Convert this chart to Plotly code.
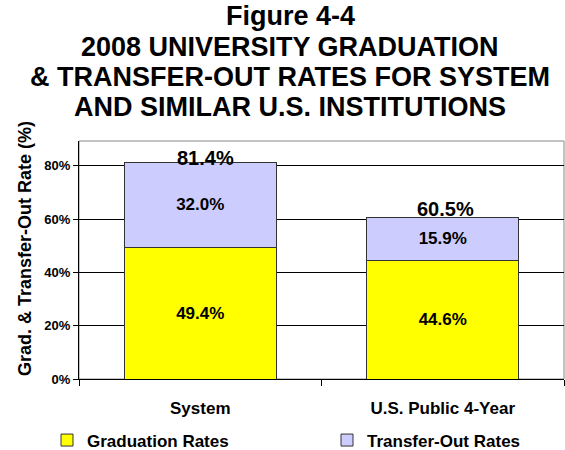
import plotly.graph_objects as go

categories = ["System", "U.S. Public 4-Year"]
graduation_rates = [0.494, 0.446]
transfer_out_rates = [0.320, 0.159]
totals = [0.814, 0.605]
series_names = ["Graduation Rates", "Transfer-Out Rates"]
tick_values = [0, 0.2, 0.4, 0.6, 0.8]
tick_labels = ["0%", "20%", "40%", "60%", "80%"]
title_lines = [
    "Figure 4-4",
    "2008 UNIVERSITY GRADUATION",
    "& TRANSFER-OUT RATES FOR SYSTEM",
    "AND SIMILAR U.S. INSTITUTIONS",
]
y_title = "Grad. & Transfer-Out Rate (%)"

FONT = "Liberation Sans, Arial, Helvetica, sans-serif"
W, H = 565, 450
L, R, T, B = 79, 1, 141, 71
plot_h = H - T - B
plot_w = W - L - R

def py_to_paper(py):
    return (H - B - py) / plot_h

def px_to_paper(px):
    return (px - L) / plot_w

fig = go.Figure()
fig.add_trace(go.Bar(
    x=categories, y=graduation_rates, name=series_names[0],
    marker=dict(color="#FFFF00", line=dict(color="#333333", width=1)),
    width=0.625, legend="legend",
    texttemplate="%{y:.1%}", textposition="inside", insidetextanchor="middle",
    textangle=0, constraintext="none",
    textfont=dict(family=FONT, size=17, color="black", weight="bold"),
))
fig.add_trace(go.Bar(
    x=categories, y=transfer_out_rates, name=series_names[1],
    marker=dict(color="#CCCCFF", line=dict(color="#333333", width=1)),
    width=0.625, legend="legend2",
    texttemplate="%{y:.1%}", textposition="inside", insidetextanchor="middle",
    textangle=0, constraintext="none",
    textfont=dict(family=FONT, size=17, color="black", weight="bold"),
))

annotations = []
total_shifts = [-9, -4]
total_xshifts = [5, 3]
for cat, tot, ys, xs in zip(categories, totals, total_shifts, total_xshifts):
    annotations.append(dict(
        x=cat, y=tot, xref="x", yref="y", text=f"<b>{tot*100:.1f}%</b>",
        showarrow=False, yanchor="bottom", yshift=ys, xshift=xs,
        font=dict(family=FONT, size=20, color="black"),
    ))

title_y_px = [16, 47, 77, 107]
for line, ypx in zip(title_lines, title_y_px):
    annotations.append(dict(
        x=px_to_paper(290), y=py_to_paper(ypx), xref="paper", yref="paper",
        text=f"<b>{line}</b>", showarrow=False, xanchor="center", yanchor="middle",
        font=dict(family=FONT, size=27, color="black"),
    ))

annotations.append(dict(
    x=px_to_paper(25), y=py_to_paper(249), xref="paper", yref="paper",
    text=f"<b>{y_title}</b>", showarrow=False, textangle=-90,
    xanchor="center", yanchor="middle",
    font=dict(family=FONT, size=18, color="black"),
))

legend_font = dict(family=FONT, size=17, color="black", weight="bold")
fig.update_layout(
    width=W, height=H,
    margin=dict(l=L, r=R, t=T, b=B, pad=0, autoexpand=False),
    paper_bgcolor="white", plot_bgcolor="white",
    barmode="stack", bargap=0.375,
    font=dict(family=FONT, color="black"),
    annotations=annotations,
    showlegend=True,
    legend=dict(
        orientation="h", x=px_to_paper(47), xanchor="left",
        y=py_to_paper(440.5), yanchor="middle",
        font=legend_font, bgcolor="rgba(0,0,0,0)",
    ),
    legend2=dict(
        orientation="h", x=px_to_paper(327), xanchor="left",
        y=py_to_paper(440.5), yanchor="middle",
        font=legend_font, bgcolor="rgba(0,0,0,0)",
    ),
    shapes=[dict(type="rect", xref="paper", yref="paper", x0=0, x1=1, y0=0, y1=1,
                 line=dict(color="#888888", width=1), layer="below")],
)

fig.update_xaxes(
    type="category", tickson="boundaries", ticks="outside", ticklen=6,
    tickcolor="black", showline=True, linecolor="black", linewidth=1,
    showgrid=False, ticklabelstandoff=14, automargin=False,
    tickfont=dict(family=FONT, size=17, color="black", weight="bold"),
)
fig.update_yaxes(
    range=[0, plot_h / 266.5], tickvals=tick_values, ticktext=tick_labels,
    ticks="outside", ticklen=5, tickcolor="black", automargin=False,
    showline=True, linecolor="black", linewidth=1,
    showgrid=True, gridcolor="black", gridwidth=1, zeroline=False,
    tickfont=dict(family=FONT, size=13, color="black", weight="bold"),
)

# remove the browser's default 8px body margin so the figure fills the window
fig.write_html(
    "out.html",
    config={"displayModeBar": False},
    post_script="document.body.style.margin='0px';",
)
